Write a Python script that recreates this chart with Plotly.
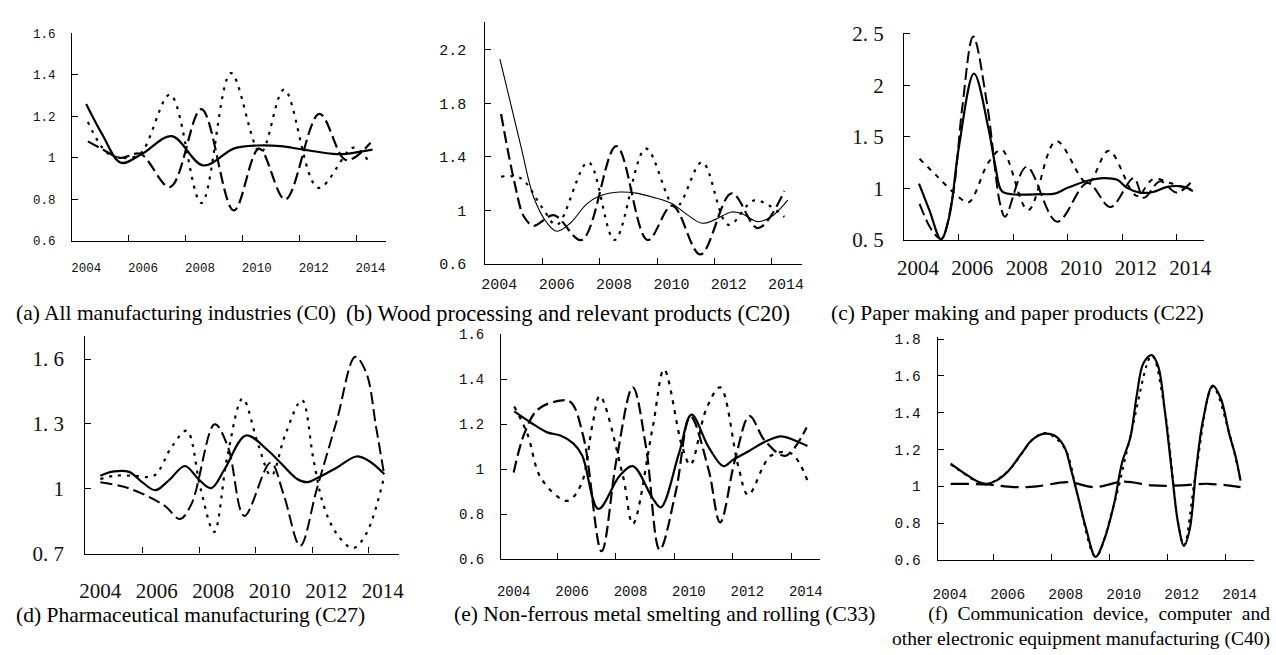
import plotly.graph_objects as go

W, H = 1276, 655

YEARS = [2004, 2006, 2008, 2010, 2012, 2014]
YEAR_TEXT = ["2004", "2006", "2008", "2010", "2012", "2014"]
X_TICK_MARKS = [2005.5, 2007.5, 2009.5, 2011.5, 2013.5]

# (a) All manufacturing industries (C0)
A_SOLID_X = [2004.0, 2004.58, 2005.22, 2005.97, 2007.01, 2008.11, 2009.21, 2010.02, 2010.83, 2011.64, 2012.68, 2013.14, 2014.07]
A_SOLID_Y = [1.26, 1.11, 0.977, 1.02, 1.105, 0.964, 1.046, 1.06, 1.057, 1.04, 1.02, 1.02, 1.04]
A_DASH_X = [2004.06, 2004.6, 2005.2, 2005.9, 2006.95, 2008.05, 2009.19, 2010.08, 2011.0, 2012.2, 2013.14, 2014.0]
A_DASH_Y = [1.08, 1.04, 1.0, 1.02, 0.86, 1.235, 0.747, 1.045, 0.80, 1.212, 0.99, 1.073]
A_DOT_X = [2004.06, 2004.7, 2005.27, 2005.9, 2006.95, 2008.05, 2009.09, 2010.13, 2010.96, 2012.16, 2013.4, 2013.9]
A_DOT_Y = [1.174, 1.03, 1.0, 1.02, 1.305, 0.783, 1.409, 1.026, 1.329, 0.856, 1.05, 0.99]

# (b) Wood processing and relevant products (C20)
B_SOLID_X = [2004.02, 2004.75, 2005.2, 2005.67, 2006.01, 2006.47, 2007.05, 2007.5, 2008.2, 2008.77, 2009.34, 2010.03, 2010.5, 2011.07, 2011.5, 2012.1, 2012.45, 2013.02, 2013.48, 2014.06]
B_SOLID_Y = [2.13, 1.48, 1.097, 0.905, 0.845, 0.905, 1.05, 1.109, 1.138, 1.13, 1.10, 1.05, 0.977, 0.905, 0.93, 0.989, 0.977, 0.917, 0.953, 1.078]
B_DASH_X = [2004.06, 2004.52, 2004.86, 2005.2, 2005.9, 2006.87, 2008.08, 2009.17, 2010.03, 2011.01, 2012.1, 2013.02, 2013.94]
B_DASH_Y = [1.72, 1.217, 0.953, 0.886, 0.965, 0.78, 1.48, 0.78, 1.037, 0.672, 1.128, 0.869, 1.145]
B_DOT_X = [2004.06, 2004.75, 2005.5, 2006.0, 2007.1, 2008.02, 2009.11, 2010.15, 2011.07, 2011.99, 2012.9, 2013.94]
B_DOT_Y = [1.253, 1.24, 1.02, 0.893, 1.361, 0.78, 1.462, 1.025, 1.36, 0.893, 1.075, 0.953]

# (c) Paper making and paper products (C22)
C_SOLID_X = [2004.04, 2004.42, 2004.85, 2005.15, 2005.51, 2006.06, 2006.6, 2006.84, 2007.08, 2007.45, 2008.53, 2009.02, 2009.5, 2010.23, 2010.83, 2011.32, 2011.68, 2012.16, 2012.64, 2013.13, 2013.61, 2014.04]
C_SOLID_Y = [1.047, 0.79, 0.505, 0.725, 1.41, 2.116, 1.57, 1.225, 0.975, 0.944, 0.944, 0.95, 1.006, 1.075, 1.10, 1.084, 1.006, 0.96, 0.966, 1.013, 1.022, 0.99]
C_DASH_X = [2004.06, 2004.5, 2004.85, 2005.27, 2005.63, 2006.03, 2006.54, 2007.02, 2007.2, 2007.99, 2009.11, 2010.23, 2011.07, 2011.92, 2012.3, 2012.9, 2013.5, 2014.1]
C_DASH_Y = [0.85, 0.6, 0.51, 0.912, 1.787, 2.475, 1.82, 0.85, 0.725, 1.21, 0.678, 1.053, 0.819, 1.10, 0.91, 1.07, 0.96, 1.08]
C_DOT_X = [2004.06, 2004.7, 2005.51, 2005.87, 2006.6, 2007.08, 2008.05, 2009.08, 2010.23, 2011.01, 2012.04, 2012.64, 2013.3, 2014.1]
C_DOT_Y = [1.288, 1.12, 0.913, 0.866, 1.256, 1.375, 0.79, 1.46, 1.053, 1.366, 0.928, 1.09, 1.05, 0.975]

# (d) Pharmaceutical manufacturing (C27)
D_SOLID_X = [2004.0, 2004.43, 2005.02, 2005.48, 2005.95, 2006.42, 2007.0, 2007.47, 2007.93, 2008.4, 2009.16, 2009.92, 2010.38, 2010.97, 2011.32, 2011.67, 2012.37, 2013.07, 2013.53, 2014.06]
D_SOLID_Y = [1.06, 1.079, 1.078, 1.03, 0.993, 1.038, 1.105, 1.045, 1.003, 1.09, 1.246, 1.179, 1.12, 1.045, 1.03, 1.048, 1.097, 1.149, 1.127, 1.067]
D_DASH_X = [2004.0, 2004.8, 2005.6, 2006.3, 2006.82, 2007.23, 2008.05, 2008.52, 2009.1, 2010.03, 2010.5, 2011.08, 2011.67, 2012.37, 2013.03, 2013.42, 2013.77, 2014.06]
D_DASH_Y = [1.03, 1.01, 0.97, 0.919, 0.86, 0.93, 1.298, 1.194, 0.874, 1.12, 0.97, 0.736, 1.0, 1.313, 1.61, 1.536, 1.283, 1.06]
D_DOT_X = [2004.0, 2004.5, 2005.2, 2005.9, 2006.53, 2007.06, 2007.55, 2008.03, 2008.5, 2009.04, 2009.6, 2010.05, 2010.55, 2011.14, 2011.55, 2011.9, 2012.37, 2012.95, 2013.42, 2014.06]
D_DOT_Y = [1.045, 1.06, 1.06, 1.06, 1.194, 1.268, 1.0, 0.80, 1.15, 1.417, 1.2, 1.06, 1.25, 1.41, 1.134, 0.926, 0.792, 0.725, 0.792, 1.06]

# (e) Non-ferrous metal smelting and rolling (C33)
E_SOLID_X = [2004.02, 2004.59, 2005.15, 2005.6, 2006.05, 2006.35, 2006.9, 2007.63, 2008.08, 2008.76, 2009.04, 2009.66, 2010.09, 2010.67, 2011.18, 2011.52, 2012.03, 2012.59, 2013.15, 2013.61, 2014.06]
E_SOLID_Y = [1.257, 1.207, 1.164, 1.15, 1.114, 1.06, 0.824, 0.971, 1.014, 0.871, 0.831, 1.071, 1.243, 1.1, 1.014, 1.043, 1.079, 1.121, 1.146, 1.129, 1.103]
E_DASH_X = [2004.0, 2004.36, 2004.81, 2005.49, 2005.94, 2006.39, 2007.01, 2007.52, 2008.08, 2008.53, 2009.0, 2009.55, 2010.05, 2010.67, 2011.07, 2011.58, 2012.08, 2012.59, 2013.3, 2014.03]
E_DASH_Y = [0.986, 1.157, 1.264, 1.303, 1.3, 1.143, 0.636, 1.043, 1.364, 1.1, 0.643, 0.9, 1.236, 1.0, 0.764, 1.043, 1.236, 1.129, 1.06, 1.186]
E_DOT_X = [2004.02, 2004.47, 2004.95, 2005.83, 2006.3, 2006.7, 2006.95, 2007.74, 2008.08, 2008.76, 2009.15, 2009.77, 2010.05, 2010.6, 2011.07, 2011.69, 2012.03, 2012.8, 2013.5, 2014.06]
E_DOT_Y = [1.279, 1.157, 0.957, 0.86, 0.93, 1.2, 1.326, 0.971, 0.757, 1.186, 1.443, 1.1, 1.02, 1.27, 1.364, 1.014, 0.886, 1.06, 1.07, 0.95]

# (f) Communication device, computer and other electronic equipment manufacturing (C40)
F_SOLID_X = [2004.03, 2004.55, 2005.0, 2005.28, 2005.6, 2006.02, 2006.48, 2006.82, 2007.22, 2007.61, 2007.95, 2008.18, 2008.41, 2008.69, 2009.03, 2009.32, 2009.66, 2009.94, 2010.23, 2010.45, 2010.68, 2010.97, 2011.19, 2011.42, 2011.65, 2011.88, 2012.08, 2012.27, 2012.5, 2012.73, 2013.07, 2013.35, 2013.64, 2013.86, 2014.03]
F_SOLID_Y = [1.124, 1.066, 1.023, 1.014, 1.031, 1.084, 1.18, 1.25, 1.285, 1.276, 1.215, 1.093, 0.953, 0.778, 0.617, 0.708, 0.9, 1.127, 1.267, 1.494, 1.669, 1.713, 1.652, 1.407, 1.093, 0.796, 0.677, 0.761, 1.093, 1.355, 1.547, 1.477, 1.285, 1.162, 1.031]
F_DASH_X = [2004.03, 2005.3, 2006.2, 2007.0, 2008.07, 2009.0, 2010.0, 2011.0, 2012.0, 2012.9, 2014.03]
F_DASH_Y = [1.014, 1.01, 0.996, 1.0, 1.023, 0.996, 1.026, 1.005, 1.005, 1.014, 0.996]
F_DOT_X = [2004.03, 2005.0, 2005.3, 2006.02, 2006.9, 2007.3, 2007.95, 2008.41, 2009.03, 2009.66, 2010.23, 2010.97, 2011.42, 2011.88, 2012.08, 2012.5, 2013.07, 2013.64, 2014.03]
F_DOT_Y = [1.12, 1.02, 1.012, 1.085, 1.26, 1.29, 1.21, 0.95, 0.62, 0.9, 1.27, 1.71, 1.41, 0.8, 0.68, 1.09, 1.54, 1.29, 1.03]

# y tick values / labels per panel
A_YTICKS = [0.6, 0.8, 1.0, 1.2, 1.4, 1.6]
A_YTEXT = ["0.6", "0.8", "1", "1.2", "1.4", "1.6"]
B_YTICKS = [0.6, 1.0, 1.4, 1.8, 2.2]
B_YTEXT = ["0.6", "1", "1.4", "1.8", "2.2"]
C_YTICKS = [0.5, 1.0, 1.5, 2.0, 2.5]
C_YTEXT = ["0. 5", "1", "1. 5", "2", "2. 5"]
D_YTICKS = [0.7, 1.0, 1.3, 1.6]
D_YTEXT = ["0. 7", "1", "1. 3", "1. 6"]
E_YTICKS = [0.6, 0.8, 1.0, 1.2, 1.4, 1.6]
E_YTEXT = ["0.6", "0.8", "1", "1.2", "1.4", "1.6"]
F_YTICKS = [0.6, 0.8, 1.0, 1.2, 1.4, 1.6, 1.8]
F_YTEXT = ["0.6", "0.8", "1", "1.2", "1.4", "1.6", "1.8"]

MONO = "Liberation Mono"
SERIF = "Liberation Serif"
INK = "#111111"

# panel layout: pixel box of the axes, axis ranges, fonts, line styles
panels = [
    dict(box=(66, 23.3, 384, 238.3), xr=[2003.51, 2014.56], yr=[0.6, 1.6],
         yt=A_YTICKS, ytt=A_YTEXT, font=MONO, fs=12.5, xso=15, yso=13,
         series=[(A_SOLID_X, A_SOLID_Y, "solid", 2.2), (A_DASH_X, A_DASH_Y, "12px,5px", 2.2), (A_DOT_X, A_DOT_Y, "3px,6px", 2.2)]),
    dict(box=(484, 11.7, 804, 262.3), xr=[2003.51, 2014.54], yr=[0.6, 2.405],
         yt=B_YTICKS, ytt=B_YTEXT, font=MONO, fs=15, xso=6, yso=15,
         series=[(B_SOLID_X, B_SOLID_Y, "solid", 1.1), (B_DASH_X, B_DASH_Y, "12px,5px", 2.2), (B_DOT_X, B_DOT_Y, "3px,6px", 2.2)]),
    dict(box=(907.7, 22.7, 1211, 237.3), xr=[2003.49, 2014.5], yr=[0.5, 2.51],
         yt=C_YTICKS, ytt=C_YTEXT, font=SERIF, fs=21, xso=9, yso=15,
         series=[(C_SOLID_X, C_SOLID_Y, "solid", 2.2), (C_DASH_X, C_DASH_Y, "12px,5px", 2.0), (C_DOT_X, C_DOT_Y, "5px,6px", 2.0)]),
    dict(box=(79.3, 336.7, 396.7, 562.3), xr=[2003.47, 2014.58], yr=[0.7, 1.707],
         yt=D_YTICKS, ytt=D_YTEXT, font=SERIF, fs=21, xso=18, yso=16,
         series=[(D_SOLID_X, D_SOLID_Y, "solid", 2.2), (D_DASH_X, D_DASH_Y, "12px,5px", 2.0), (D_DOT_X, D_DOT_Y, "3px,6px", 2.2)]),
    dict(box=(500, 334.3, 823, 568.3), xr=[2003.57, 2014.5], yr=[0.6, 1.603],
         yt=E_YTICKS, ytt=E_YTEXT, font=MONO, fs=14, xso=19, yso=13,
         series=[(E_SOLID_X, E_SOLID_Y, "solid", 2.2), (E_DASH_X, E_DASH_Y, "12px,5px", 2.2), (E_DOT_X, E_DOT_Y, "4px,6px", 2.2)]),
    dict(box=(941.7, 337.7, 1261.7, 569), xr=[2003.58, 2014.49], yr=[0.6, 1.812],
         yt=F_YTICKS, ytt=F_YTEXT, font=MONO, fs=14.5, xso=20, yso=13,
         series=[(F_SOLID_X, F_SOLID_Y, "solid", 2.2), (F_DASH_X, F_DASH_Y, "18px,7px", 2.2), (F_DOT_X, F_DOT_Y, "3px,5px", 2.0)]),
]

fig = go.Figure()
layout = dict(
    width=W, height=H, margin=dict(l=0, r=0, t=0, b=0),
    paper_bgcolor="white", plot_bgcolor="white", showlegend=False,
)

for i, p in enumerate(panels, start=1):
    sfx = "" if i == 1 else str(i)
    l, t, r, b = p["box"]
    for xs, ys, dash, wdt in p["series"]:
        fig.add_trace(go.Scatter(
            x=xs, y=ys, mode="lines", xaxis="x" + sfx, yaxis="y" + sfx,
            line=dict(shape="spline", smoothing=1.0, color="black", width=wdt, dash=dash),
            hoverinfo="skip",
        ))
    layout["xaxis" + sfx] = dict(
        domain=[l / W, r / W], range=p["xr"], anchor="y" + sfx,
        showline=True, linecolor="black", linewidth=1.2, mirror=False,
        showgrid=False, zeroline=False,
        tickmode="array", tickvals=YEARS, ticktext=YEAR_TEXT, ticks="",
        ticklabelstandoff=p["xso"],
        tickfont=dict(family=p["font"], size=p["fs"], color=INK),
        minor=dict(tickmode="array", tickvals=X_TICK_MARKS, ticks="inside",
                   ticklen=6, tickwidth=1.2, tickcolor="black", showgrid=False),
        fixedrange=True,
    )
    layout["yaxis" + sfx] = dict(
        domain=[1 - b / H, 1 - t / H], range=p["yr"], anchor="x" + sfx,
        showline=True, linecolor="black", linewidth=1.2, mirror=False,
        showgrid=False, zeroline=False,
        tickmode="array", tickvals=p["yt"], ticktext=p["ytt"],
        ticks="inside", ticklen=6, tickwidth=1.2, tickcolor="black",
        ticklabelstandoff=p["yso"],
        tickfont=dict(family=p["font"], size=p["fs"], color=INK),
        fixedrange=True,
    )

fig.update_layout(**layout)


def caption(text, px, py, size=21.5, anchor="left", align="left"):
    fig.add_annotation(text=text, x=px / W, y=1 - py / H, xref="paper", yref="paper",
                       xanchor=anchor, yanchor="middle", align=align, showarrow=False,
                       font=dict(family=SERIF, size=size, color="black"))


caption("(a) All manufacturing industries (C0)", 7, 313)
caption("(b) Wood processing and relevant products (C20)", 341, 313, size=22.5)
caption("(c) Paper making and paper products (C22)", 832, 313)
caption("(d) Pharmaceutical manufacturing (C27)", 7, 626)
caption("(e) Non-ferrous metal smelting and rolling (C33)", 450, 625, size=21.5)
# caption (f): two right-aligned lines, the first with widened word gaps
GAP = "\u00a0\u00a0"
F_LINE1 = GAP.join(["(f)", "Communication", "device,", "computer", "and"])
F_LINE2 = "other electronic equipment manufacturing (C40)"
caption(F_LINE1 + "<br>" + F_LINE2, 1280, 638, size=19.5, anchor="right", align="right")

fig.write_html("out.html")
